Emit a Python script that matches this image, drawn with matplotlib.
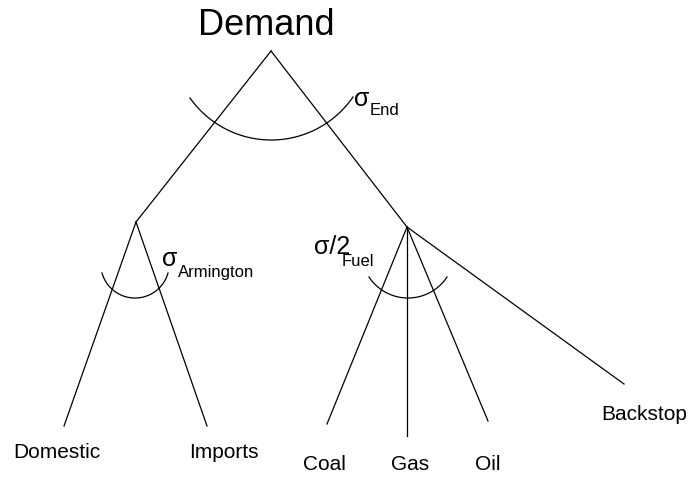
"""Nested CES tree: demand split into Armington and fuel nests."""

import matplotlib

matplotlib.use("Agg")

import numpy as np
import matplotlib.pyplot as plt

# node positions in pixel coordinates (x, y from top)
node_names = ["Demand", "Armington", "Fuel", "Domestic", "Imports", "Coal", "Gas", "Oil", "Backstop"]
node_x = [271, 136, 407, 64, 207, 327, 407, 488, 624]
node_y = [51, 222, 227, 426, 426, 424, 436, 421, 384]

edges = [
    ("Demand", "Armington"),
    ("Demand", "Fuel"),
    ("Armington", "Domestic"),
    ("Armington", "Imports"),
    ("Fuel", "Coal"),
    ("Fuel", "Gas"),
    ("Fuel", "Oil"),
    ("Fuel", "Backstop"),
]

# leaf labels: text, x centre, y centre
leaf_labels = ["Domestic", "Imports", "Coal", "Gas", "Oil", "Backstop"]
leaf_label_x = [57, 224, 324, 410, 488, 644]
leaf_label_y = [453, 453, 465, 465, 465, 415]

# elasticity arcs: left end, bottom, right end
arc_left = [(190, 98), (102, 273), (369, 277)]
arc_bottom = [(271, 140), (136, 298), (407, 298)]
arc_right = [(353, 97), (168, 273), (447, 277)]

# elasticity labels
sigma_main = ["σ", "σ", "σ/2"]
sigma_sub = ["End", "Armington", "Fuel"]
sigma_x = [354, 162, 314]
sigma_y = [99, 259, 247]
sub_x = [370, 178, 342]
sub_y = [110, 272, 262]


def circle_arc(p1, p2, p3, n=80):
    (x1, y1), (x2, y2), (x3, y3) = p1, p2, p3
    d = 2 * (x1 * (y2 - y3) + x2 * (y3 - y1) + x3 * (y1 - y2))
    ux = ((x1**2 + y1**2) * (y2 - y3) + (x2**2 + y2**2) * (y3 - y1) + (x3**2 + y3**2) * (y1 - y2)) / d
    uy = ((x1**2 + y1**2) * (x3 - x2) + (x2**2 + y2**2) * (x1 - x3) + (x3**2 + y3**2) * (x2 - x1)) / d
    r = np.hypot(x1 - ux, y1 - uy)
    t1 = np.arctan2(y1 - uy, x1 - ux)
    t3 = np.arctan2(y3 - uy, x3 - ux)
    t = np.linspace(t1, t3, n)
    return ux + r * np.cos(t), uy + r * np.sin(t)


fig = plt.figure(figsize=(6.9, 4.78), dpi=100, facecolor="white")
ax = fig.add_axes([0, 0, 1, 1])
ax.set_xlim(0, 690)
ax.set_ylim(478, 0)
ax.set_axis_off()

pos = {n: (x, y) for n, x, y in zip(node_names, node_x, node_y)}
for a, b in edges:
    ax.plot([pos[a][0], pos[b][0]], [pos[a][1], pos[b][1]], color="black", lw=0.9)

for p1, p2, p3 in zip(arc_left, arc_bottom, arc_right):
    xs, ys = circle_arc(p1, p2, p3)
    ax.plot(xs, ys, color="black", lw=0.9)

font = "Liberation Sans"
ax.text(266, 25, "Demand", ha="center", va="center", fontsize=26, family=font)
for lab, x, y in zip(leaf_labels, leaf_label_x, leaf_label_y):
    ax.text(x, y, lab, ha="center", va="center", fontsize=15, family=font)

for s, sub, x, y, x2, y2 in zip(sigma_main, sigma_sub, sigma_x, sigma_y, sub_x, sub_y):
    ax.text(x, y, s, ha="left", va="center", fontsize=18, family=font)
    ax.text(x2, y2, sub, ha="left", va="center", fontsize=12, family=font)

fig.savefig("out.png", dpi=100, facecolor="white")
